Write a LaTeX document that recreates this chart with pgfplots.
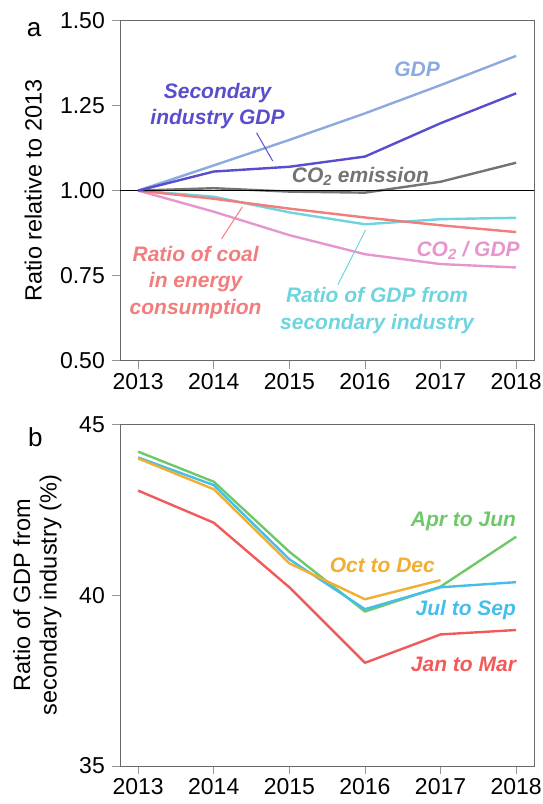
\documentclass[border=0pt]{standalone}
\usepackage{pgfplots}
\pgfplotsset{compat=1.18}
\usepackage{fontspec}
\setmainfont{Liberation Sans}
\definecolor{cGDP}{RGB}{140,170,222}
\definecolor{cSec}{RGB}{88,78,205}
\definecolor{cCO}{RGB}{115,115,115}
\definecolor{cCoal}{RGB}{242,125,125}
\definecolor{cRat}{RGB}{110,212,222}
\definecolor{cInt}{RGB}{230,150,205}
\definecolor{qApr}{RGB}{110,200,105}
\definecolor{qJul}{RGB}{70,190,235}
\definecolor{qOct}{RGB}{240,175,50}
\definecolor{qJan}{RGB}{242,90,90}
\definecolor{framegray}{RGB}{105,105,105}
\definecolor{tickgray}{RGB}{150,150,150}
\newcommand\ann{\fontsize{21}{26.5}\selectfont\bfseries\itshape}
\begin{document}
\begin{tikzpicture}
\path[use as bounding box] (0,0) rectangle (543pt,804pt);
\pgfplotsset{
  common/.style={
    scale only axis, width=414.3pt,
    xmin=2012.76, xmax=2018.24,
    xtick={2013,2014,2015,2016,2017,2018},
    tick align=outside, major tick length=8pt,
    xtick pos=left, ytick pos=left,
    tick style={color=tickgray, line width=0.9pt},
    axis line style={color=framegray, line width=0.9pt},
    every tick label/.append style={font=\fontsize{23}{27}\selectfont, inner sep=0pt},
    xticklabel style={yshift=-4.6pt, /pgf/number format/set thousands separator={}},
    yticklabel style={xshift=-7pt},
    /pgf/number format/assume math mode=true,
    label style={font=\fontsize{23.5}{27}\selectfont},
    clip=false,
    every axis plot/.append style={line width=2.4pt, line join=round},
  }
}
% Panel a
\begin{axis}[common,
  at={(120pt,443.3pt)}, anchor=south west, height=340.2pt,
  ymin=0.5, ymax=1.5, ytick={0.5,0.75,1,1.25,1.5},
  yticklabel style={/pgf/number format/.cd, fixed, fixed zerofill, precision=2},
  ylabel={Ratio relative to 2013},
  ylabel style={at={(axis description cs:-0.189,0.5)}, anchor=base, inner sep=0pt},
]
\addplot[cInt] coordinates {(2013,1)(2014,0.938)(2015,0.869)(2016,0.813)(2017,0.784)(2018,0.774)};
\addplot[cRat] coordinates {(2013,1)(2014,0.982)(2015,0.936)(2016,0.901)(2017,0.916)(2018,0.920)};
\addplot[cCoal] coordinates {(2013,1)(2014,0.976)(2015,0.947)(2016,0.921)(2017,0.898)(2018,0.878)};
\addplot[cCO] coordinates {(2013,1)(2014,1.007)(2015,0.997)(2016,0.994)(2017,1.026)(2018,1.082)};
\addplot[black, line width=1pt] coordinates {(2012.76,1)(2018.24,1)};
\addplot[cGDP] coordinates {(2013,1)(2014,1.074)(2015,1.149)(2016,1.227)(2017,1.310)(2018,1.396)};
\addplot[cSec] coordinates {(2013,1)(2014,1.056)(2015,1.070)(2016,1.100)(2017,1.198)(2018,1.286)};
\draw[cSec, line width=1pt] (axis cs:2014.566,1.170) -- (axis cs:2014.78,1.087);
\draw[cCoal, line width=1pt] (axis cs:2014.378,0.952) -- (axis cs:2014.103,0.858);
\draw[cRat, line width=1pt] (axis cs:2016.008,0.884) -- (axis cs:2015.641,0.723);
\node[cGDP, font=\ann] at (axis cs:2016.69,1.357) {GDP};
\node[cSec, font=\ann, align=center] at (axis cs:2014.05,1.249) {Secondary\\industry GDP};
\node[cCO, font=\ann] at (axis cs:2015.94,1.042) {CO\textsubscript{2} emission};
\node[cCoal, font=\ann, align=center] at (axis cs:2013.76,0.730) {Ratio of coal\\in energy\\consumption};
\node[cInt, font=\ann, anchor=east, inner sep=0pt] at (axis cs:2018.05,0.824) {CO\textsubscript{2} / GDP};
\node[cRat, font=\ann, align=center] at (axis cs:2016.16,0.648) {Ratio of GDP from\\secondary industry};
\end{axis}
% Panel b
\begin{axis}[common,
  at={(120pt,38pt)}, anchor=south west, height=341.7pt,
  ymin=35, ymax=45, ytick={35,40,45},
  ylabel={Ratio of GDP from\\secondary industry (\%)},
  ylabel style={at={(axis description cs:-0.1996,0.5)}, anchor=center, align=center, inner sep=0pt, font=\fontsize{23.5}{26.7}\selectfont},
]
\addplot[qApr] coordinates {(2013,44.20)(2014,43.32)(2015,41.27)(2016,39.52)(2017,40.25)(2018,41.71)};
\addplot[qJul] coordinates {(2013,44.03)(2014,43.22)(2015,41.05)(2016,39.59)(2017,40.23)(2018,40.38)};
\addplot[qOct] coordinates {(2013,44.00)(2014,43.10)(2015,40.93)(2016,39.88)(2017,40.44)};
\addplot[qJan] coordinates {(2013,43.06)(2014,42.12)(2015,40.23)(2016,38.02)(2017,38.85)(2018,38.98)};
\node[qApr, font=\ann, anchor=east, inner sep=0pt] at (axis cs:2018.0,42.15) {Apr to Jun};
\node[qOct, font=\ann] at (axis cs:2016.23,40.88) {Oct to Dec};
\node[qJul, font=\ann, anchor=east, inner sep=0pt] at (axis cs:2018.0,39.55) {Jul to Sep};
\node[qJan, font=\ann, anchor=east, inner sep=0pt] at (axis cs:2018.0,37.96) {Jan to Mar};
\end{axis}
\node[font=\fontsize{26}{30}\selectfont, anchor=base west, inner sep=0pt] at (26.7pt,767.3pt) {a};
\node[font=\fontsize{26}{30}\selectfont, anchor=base west, inner sep=0pt] at (28pt,357.3pt) {b};
\end{tikzpicture}
\end{document}
